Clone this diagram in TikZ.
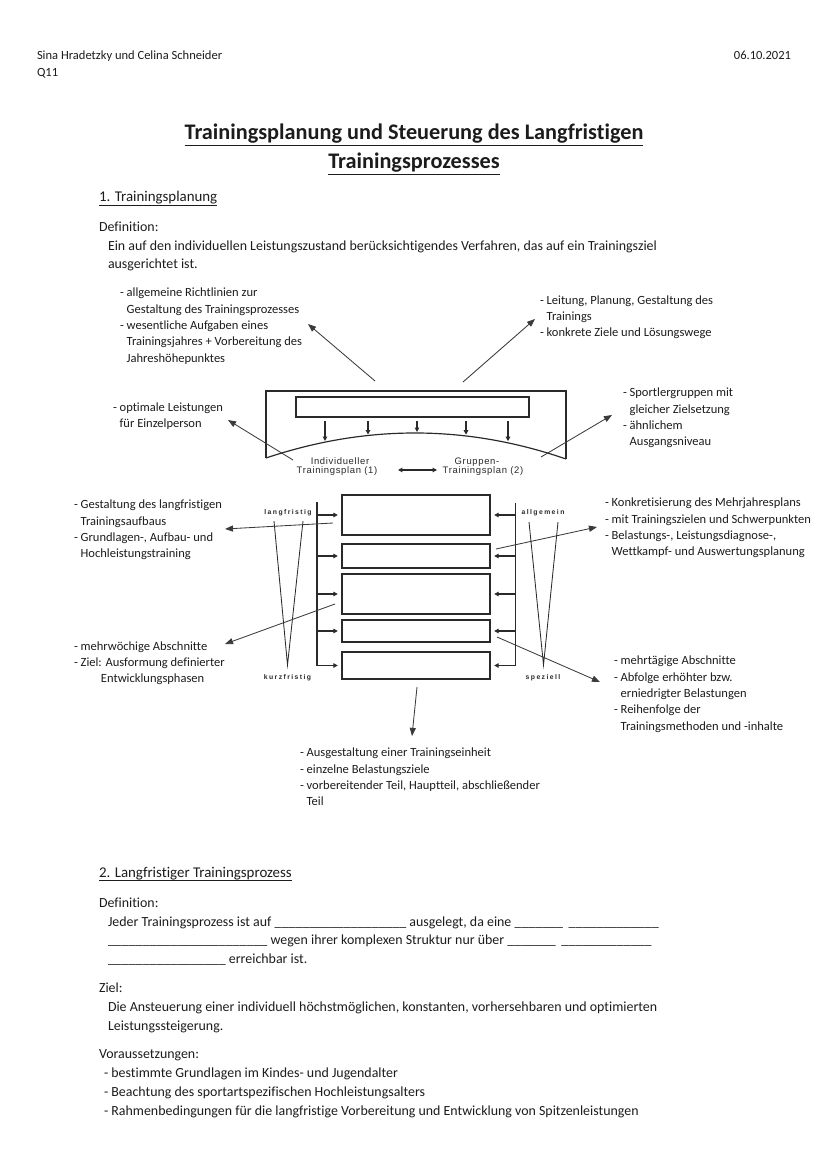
\documentclass[tikz,border=0pt]{standalone}
\usepackage{fontspec}
\setmainfont{Carlito}[Ligatures=NoCommon]
\newfontfamily\myfigfam[LetterSpace=7]{Liberation Sans}
\newfontfamily\mytinyfam[LetterSpace=21]{Liberation Sans}
\usetikzlibrary{arrows.meta}
\definecolor{tcol}{HTML}{1C1C1C}
\definecolor{lcol}{HTML}{2A2A2A}
\definecolor{ccol}{HTML}{3A3A3A}
\newcommand\mybody{\fontsize{10}{13.65}\selectfont}
\newcommand\myann{\fontsize{9}{11.7}\selectfont}
\newcommand\myhdr{\fontsize{9}{11.7}\selectfont}
\newcommand\mytitle{\fontsize{16}{20.8}\selectfont\bfseries}
\newcommand\myhead{\fontsize{10.7}{13}\selectfont}
\newcommand\myfig{\myfigfam\fontsize{6.8}{6.5}\selectfont}
\newcommand\mytiny{\mytinyfam\bfseries\fontsize{4.9}{5}\selectfont}
\newsavebox\myulbox
\newcommand\myul[3]{\sbox\myulbox{#3}\rlap{\rule[-#1]{\wd\myulbox}{#2}}\usebox\myulbox}
\newcount\myusc
\newcommand\myus[1]{\myusc=0\relax\loop\ifnum\myusc<#1\relax\textunderscore\advance\myusc by 1\relax\repeat}
\begin{document}
\begin{tikzpicture}[x=0.7186pt,y=-0.7186pt,
  txt/.style={anchor=base west, inner sep=0pt, outer sep=0pt, align=left, text=tcol, font=\mybody},
  ann/.style={txt, font=\myann},
  figbox/.style={draw=lcol, line width=0.85pt, inner sep=0pt, outer sep=0pt},
  figline/.style={draw=lcol, line width=0.85pt},
  figthinline/.style={draw=lcol, line width=0.6pt},
  con/.style={draw=ccol, line width=0.6pt, -{Triangle[length=5.8pt,width=4.4pt]}},
  barr/.style={draw=lcol, line width=1.1pt, -{Triangle[length=3.2pt,width=3.2pt]}},
  dblarr/.style={draw=lcol, line width=1.1pt, {Triangle[length=3.2pt,width=3.2pt]}-{Triangle[length=3.2pt,width=3.2pt]}},
  figlab/.style={inner sep=0pt, text=lcol, font=\myfig, anchor=base},
  tinylab/.style={inner sep=0pt, text=lcol, font=\mytiny},
]
\fill[white] (0,0) rectangle (828,1171);
\useasboundingbox (0,0) rectangle (828,1171);

% header
\node[txt, font=\myhdr] (auth) at (37,60) {Sina Hradetzky und Celina Schneider};
\node[txt, font=\myhdr] (cls) at (37,77) {Q11};
\node[txt, font=\myhdr, anchor=base east] (date) at (791,60) {06.10.2021};

% title
\node[txt, font=\mytitle, anchor=base] (t1) at (414,140) {\myul{4.3pt}{0.9pt}{Trainingsplanung und Steuerung des Langfristigen}};
\node[txt, font=\mytitle, anchor=base] (t2) at (414,169) {\myul{4.3pt}{0.9pt}{Trainingsprozesses}};

% section 1 (multi-line nodes: base anchor = last line baseline)
\node[txt, font=\myhead] (h1) at (99,202) {\myul{2.6pt}{0.6pt}{1. Trainingsplanung}};
\node[txt] (d1) at (99,232) {Definition:};
\node[txt] (d1t) at (108,269) {Ein auf den individuellen Leistungszustand berücksichtigendes Verfahren, das auf ein Trainingsziel\\ausgerichtet ist.};

% annotations top
\node[ann] (tl) at (120,362.1) {- allgemeine Richtlinien zur\\\phantom{- }Gestaltung des Trainingsprozesses\\- wesentliche Aufgaben eines\\\phantom{- }Trainingsjahres + Vorbereitung des\\\phantom{- }Jahreshöhepunktes};
\node[ann] (tr) at (540,336.6) {- Leitung, Planung, Gestaltung des\\\phantom{- }Trainings\\- konkrete Ziele und Lösungswege};
\node[ann] (ol) at (113,427.3) {- optimale Leistungen\\\phantom{- }für Einzelperson};
\node[ann] (sg) at (623,445.8) {- Sportlergruppen mit\\\phantom{- }gleicher Zielsetzung\\- ähnlichem\\\phantom{- }Ausgangsniveau};

% top figure
\draw[figline] (266,458) -- (266,391) -- (566,391) -- (566,459);
\draw[figline] (266,458) .. controls (366,424.5) and (466,424.5) .. (566,459);
\node[figbox, minimum width=167.43pt, minimum height=14.37pt] (b0) at (412.5,407) {};
\foreach \xx/\yy [count=\i] in {325/441, 368/434.5, 417/432, 466/434.7, 508/441.2}{
  \coordinate (ds\i) at (\xx,417);
  \coordinate (de\i) at (\xx,\yy);
  \draw[barr] ([yshift=-3pt]ds\i) -- (de\i);
}
\node[figlab] (il1) at (340,464) {Individueller};
\node[figlab] (il2) at (337,473) {Trainingsplan (1)};
\node[figlab] (gl1) at (477,464) {Gruppen-};
\node[figlab] (gl2) at (483,473) {Trainingsplan (2)};
\coordinate (da1) at (398,470);
\coordinate (da2) at (437,470);
\draw[dblarr] (da1) -- (da2);

% connectors top
\coordinate (c1s) at (375,381); \coordinate (c1e) at (308,324);
\coordinate (c2s) at (463,382); \coordinate (c2e) at (535,319);
\coordinate (c3s) at (293,460); \coordinate (c3e) at (228,420);
\coordinate (c4s) at (541,457); \coordinate (c4e) at (612,415);
\draw[con] (c1s) -- (c1e);
\draw[con] (c2s) -- (c2e);
\draw[con] (c3s) -- (c3e);
\draw[con] (c4s) -- (c4e);

% middle figure
\node[figbox, minimum width=106.35pt, minimum height=28.74pt] (b1) at (416,515) {};
\node[figbox, minimum width=106.35pt, minimum height=17.25pt] (b2) at (416,556) {};
\node[figbox, minimum width=106.35pt, minimum height=28.74pt] (b3) at (416,594) {};
\node[figbox, minimum width=106.35pt, minimum height=15.81pt] (b4) at (416,631) {};
\node[figbox, minimum width=106.35pt, minimum height=19.40pt] (b5) at (416,665.5) {};
\coordinate (lbT) at (317,502);
\coordinate (rbT) at (515.5,503);
\draw[figline] (lbT) -- (lbT |- b5.west);
\draw[figline] (rbT) -- (rbT |- b5.east);
\foreach \b in {b1,b2,b3,b4,b5}{
  \draw[barr] (\b.west -| lbT) -- ([xshift=-3pt]\b.west);
  \draw[barr] (\b.east -| rbT) -- ([xshift=3pt]\b.east);
}
\node[tinylab] (lf) at (288,512.7) {langfristig};
\node[tinylab] (kf) at (287.5,677.7) {kurzfristig};
\node[tinylab] (ag) at (543,512.7) {allgemein};
\node[tinylab] (sp) at (543,677.7) {speziell};
\coordinate (lv1) at (274,521); \coordinate (lv2) at (303,521); \coordinate (lvb) at (287.5,665);
\coordinate (rv1) at (529,522); \coordinate (rv2) at (558,522); \coordinate (rvb) at (543.5,665);
\draw[figthinline] (lv1) -- (lvb) -- (lv2);
\draw[figthinline] (rv1) -- (rvb) -- (rv2);

% connectors middle
\coordinate (c5s) at (333,523); \coordinate (c5e) at (225,529);
\coordinate (c6s) at (496,549); \coordinate (c6e) at (597,527);
\coordinate (c7s) at (335,604); \coordinate (c7e) at (225,644);
\coordinate (c8s) at (497,637); \coordinate (c8e) at (600,682);
\coordinate (c9s) at (417,687); \coordinate (c9e) at (412,736);
\draw[con] (c5s) -- (c5e);
\draw[con] (c6s) -- (c6e);
\draw[con] (c7s) -- (c7e);
\draw[con] (c8s) -- (c8e);
\draw[con] (c9s) -- (c9e);

% annotations middle
\node[ann] (gs) at (74,557.8) {- Gestaltung des langfristigen\\\phantom{- }Trainingsaufbaus\\- Grundlagen-, Aufbau- und\\\phantom{- }Hochleistungstraining};
\node[ann] (mw) at (74,682.6) {- mehrwöchige Abschnitte\\- Ziel: Ausformung definierter\\\hspace{19.4pt}Entwicklungsphasen};
\node[ann] (ko) at (605,555.8) {- Konkretisierung des Mehrjahresplans\\- mit Trainingszielen und Schwerpunkten\\- Belastungs-, Leistungsdiagnose-,\\\phantom{- }Wettkampf- und Auswertungsplanung};
\node[ann] (mt) at (614,730.1) {- mehrtägige Abschnitte\\- Abfolge erhöhter bzw.\\\phantom{- }erniedrigter Belastungen\\- Reihenfolge der\\\phantom{- }Trainingsmethoden und -inhalte};
\node[ann] (te) at (300,805.8) {- Ausgestaltung einer Trainingseinheit\\- einzelne Belastungsziele\\- vorbereitender Teil, Hauptteil, abschließender\\\phantom{- }Teil};

% section 2
\node[txt, font=\myhead] (h2) at (99,877) {\myul{2.6pt}{0.6pt}{2. Langfristiger Trainingsprozess}};
\node[txt] (d2) at (99,907) {Definition:};
\node[txt, font=\fontsize{10}{13.4}\selectfont] (d2t) at (108,963.3) {Jeder Trainingsprozess ist auf \myus{19} ausgelegt, da eine \myus{7}\hspace{4pt}\myus{13}\\\myus{23} wegen ihrer komplexen Struktur nur über \myus{7}\hspace{4pt}\myus{13}\\\myus{17} erreichbar ist.};
\node[txt] (z) at (99,992) {Ziel:};
\node[txt] (zt) at (108,1030) {Die Ansteuerung einer individuell höchstmöglichen, konstanten, vorhersehbaren und optimierten\\Leistungssteigerung.};
\node[txt] (v) at (99,1058) {Voraussetzungen:};
\node[txt, font=\fontsize{10}{13.3}\selectfont] (vt) at (104,1115) {- bestimmte Grundlagen im Kindes- und Jugendalter\\- Beachtung des sportartspezifischen Hochleistungsalters\\- Rahmenbedingungen für die langfristige Vorbereitung und Entwicklung von Spitzenleistungen};
\end{tikzpicture}
\end{document}
